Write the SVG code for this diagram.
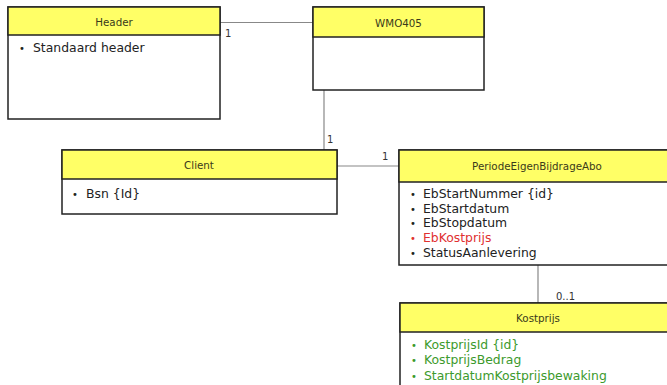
<svg xmlns="http://www.w3.org/2000/svg" width="667" height="385" viewBox="0 0 667 385">
<style>
.box{fill:#fff;stroke:#222;stroke-width:1.5}
.band{fill:#ffff66;stroke:#222;stroke-width:1.5}
.title{font-family:"DejaVu Sans",Verdana,sans-serif;font-size:10.3px;fill:#3a3a1a;text-anchor:middle}
.attr{font-family:"DejaVu Sans",Verdana,sans-serif;font-size:12.4px;fill:#222}
.bul{font-family:"DejaVu Sans",Verdana,sans-serif;font-size:10px;fill:#222}
.red{fill:#e03030}
.green{fill:#3c9a2c}
.conn{stroke:#888;stroke-width:1.2;fill:none}
.lbl{font-family:"DejaVu Sans",Verdana,sans-serif;font-size:10px;fill:#333}
</style>
<rect width="667" height="385" fill="#fff"/>
<g id="connectors">
<line class="conn" x1="220" y1="22.5" x2="313" y2="22.5"/>
<text class="lbl" x="225" y="37">1</text>
<line class="conn" x1="324" y1="90" x2="324" y2="150"/>
<text class="lbl" x="327" y="143">1</text>
<line class="conn" x1="337" y1="166" x2="399" y2="166"/>
<text class="lbl" x="382" y="160">1</text>
<line class="conn" x1="538" y1="265" x2="538" y2="303"/>
<text class="lbl" x="556" y="300">0..1</text>
</g>
<g id="Header">
<rect class="box" x="8" y="7" width="212" height="112"/>
<rect class="band" x="8" y="7" width="212" height="28"/>
<text class="title" x="114" y="26">Header</text>
<text class="bul" x="19" y="52">•</text>
<text class="attr" x="33" y="52">Standaard header</text>
</g>
<g id="WMO405">
<rect class="box" x="313" y="7" width="171" height="83"/>
<rect class="band" x="313" y="7" width="171" height="30"/>
<text class="title" x="398.5" y="27">WMO405</text>
</g>
<g id="Client">
<rect class="box" x="62" y="150" width="275" height="64"/>
<rect class="band" x="62" y="150" width="275" height="29"/>
<text class="title" x="199" y="169">Client</text>
<text class="bul" x="72" y="198">•</text>
<text class="attr" x="86" y="198">Bsn {Id}</text>
</g>
<g id="PeriodeEigenBijdrageAbo">
<rect class="box" x="399" y="150" width="280" height="115"/>
<rect class="band" x="399" y="150" width="280" height="32"/>
<text class="title" x="537" y="170">PeriodeEigenBijdrageAbo</text>
<text class="bul" x="410" y="198">•</text><text class="attr" x="423" y="198">EbStartNummer {id}</text>
<text class="bul" x="410" y="213">•</text><text class="attr" x="423" y="213">EbStartdatum</text>
<text class="bul" x="410" y="227">•</text><text class="attr" x="423" y="227">EbStopdatum</text>
<text class="bul red" x="410" y="242">•</text><text class="attr red" x="423" y="242">EbKostprijs</text>
<text class="bul" x="410" y="257">•</text><text class="attr" x="423" y="257">StatusAanlevering</text>
</g>
<g id="Kostprijs">
<rect class="box" x="400" y="303" width="280" height="100"/>
<rect class="band" x="400" y="303" width="280" height="29"/>
<text class="title" x="538" y="322">Kostprijs</text>
<text class="bul green" x="411" y="349">•</text><text class="attr green" x="424" y="349">KostprijsId {id}</text>
<text class="bul green" x="411" y="364">•</text><text class="attr green" x="424" y="364">KostprijsBedrag</text>
<text class="bul green" x="411" y="380">•</text><text class="attr green" x="424" y="380">StartdatumKostprijsbewaking</text>
</g>
</svg>
